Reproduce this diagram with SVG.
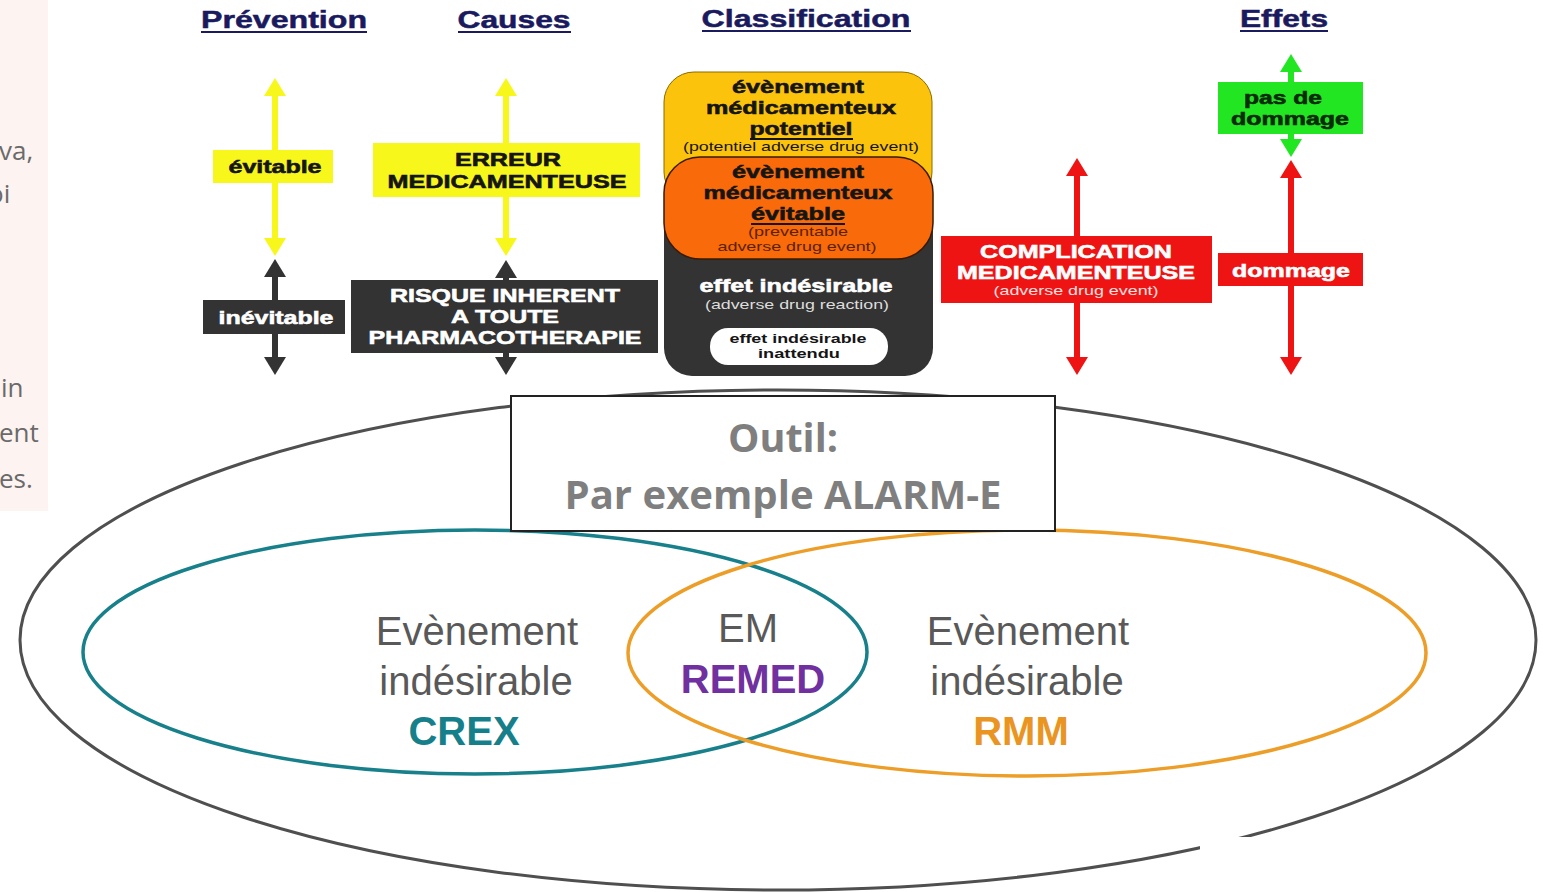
<svg xmlns="http://www.w3.org/2000/svg" width="1544" height="892" viewBox="0 0 1544 892">
  <defs>
    <style>
      .h { font-family: "Liberation Sans", Arial, sans-serif; font-weight: bold; font-size: 24px; fill: #1a1a5e; stroke: #1a1a5e; stroke-width: 0.5; text-anchor: middle; }
      .ul { stroke: #1a1a5e; stroke-width: 2; }
      .lb { font-family: "Liberation Sans", Arial, sans-serif; font-weight: bold; font-size: 19px; text-anchor: middle; stroke-width: 0.6; }
      .sm { font-family: "Liberation Sans", Arial, sans-serif; font-size: 13px; text-anchor: middle; }
      .dk { fill: #151515; }
      .wh { fill: #ffffff; }
      .lb.dk { stroke: #151515; }
      .lb.wh { stroke: #ffffff; }
      .side { font-family: "Open Sans", "Liberation Sans", sans-serif; font-size: 26px; fill: #6a6a6a; }
      .venn { font-family: "Liberation Sans", Arial, sans-serif; font-size: 40px; fill: #595959; text-anchor: middle; }
      .vb { font-family: "Liberation Sans", Arial, sans-serif; font-size: 40px; font-weight: bold; text-anchor: middle; }
      .tool { font-family: "Open Sans", "Liberation Sans", sans-serif; font-weight: bold; font-size: 40px; fill: #7f7f7f; text-anchor: middle; }
      .shaft { stroke-width: 6; fill: none; }
    </style>
    <clipPath id="panelClip"><rect x="0" y="0" width="48" height="511"/></clipPath>
    <marker id="hY" viewBox="0 0 18 22" refX="1" refY="11" markerWidth="18" markerHeight="22" markerUnits="userSpaceOnUse" orient="auto-start-reverse"><path d="M0,0 L18,11 L0,22 Z" fill="#f7f71c"/></marker>
    <marker id="hK" viewBox="0 0 18 22" refX="1" refY="11" markerWidth="18" markerHeight="22" markerUnits="userSpaceOnUse" orient="auto-start-reverse"><path d="M0,0 L18,11 L0,22 Z" fill="#333333"/></marker>
    <marker id="hR" viewBox="0 0 18 22" refX="1" refY="11" markerWidth="18" markerHeight="22" markerUnits="userSpaceOnUse" orient="auto-start-reverse"><path d="M0,0 L18,11 L0,22 Z" fill="#ee1414"/></marker>
    <marker id="hG" viewBox="0 0 18 22" refX="1" refY="11" markerWidth="18" markerHeight="22" markerUnits="userSpaceOnUse" orient="auto-start-reverse"><path d="M0,0 L18,11 L0,22 Z" fill="#22e622"/></marker>
  </defs>

  <rect width="1544" height="892" fill="#ffffff"/>

  <!-- side panel with clipped text -->
  <g id="side-panel">
    <rect x="0" y="0" width="48" height="511" fill="#fdf3f1"/>
    <g clip-path="url(#panelClip)">
      <text class="side" x="-1" y="160">va,</text>
      <text class="side" x="-12" y="203">oi</text>
      <text class="side" x="1" y="397">in</text>
      <text class="side" x="-1" y="442">ent</text>
      <text class="side" x="-1" y="488">es.</text>
    </g>
  </g>

  <!-- column headings -->
  <g id="headings">
    <text class="h" x="284" y="28" textLength="166" lengthAdjust="spacingAndGlyphs">Prévention</text>
    <line class="ul" x1="201" y1="32" x2="367" y2="32"/>
    <text class="h" x="514" y="28" textLength="113" lengthAdjust="spacingAndGlyphs">Causes</text>
    <line class="ul" x1="458" y1="32" x2="571" y2="32"/>
    <text class="h" x="806" y="27" textLength="209" lengthAdjust="spacingAndGlyphs">Classification</text>
    <line class="ul" x1="702" y1="31" x2="911" y2="31"/>
    <text class="h" x="1284" y="27" textLength="88" lengthAdjust="spacingAndGlyphs">Effets</text>
    <line class="ul" x1="1240" y1="31" x2="1328" y2="31"/>
  </g>

  <!-- double-headed arrows -->
  <g id="connectors">
    <line class="shaft" x1="275" y1="95" x2="275" y2="239" stroke="#f7f71c" marker-start="url(#hY)" marker-end="url(#hY)"/>
    <line class="shaft" x1="275" y1="276" x2="275" y2="358" stroke="#333333" marker-start="url(#hK)" marker-end="url(#hK)"/>
    <line class="shaft" x1="506" y1="95" x2="506" y2="239" stroke="#f7f71c" marker-start="url(#hY)" marker-end="url(#hY)"/>
    <line class="shaft" x1="506" y1="277" x2="506" y2="358" stroke="#333333" marker-start="url(#hK)" marker-end="url(#hK)"/>
    <line class="shaft" x1="1077" y1="175" x2="1077" y2="358" stroke="#ee1414" marker-start="url(#hR)" marker-end="url(#hR)"/>
    <line class="shaft" x1="1291" y1="71" x2="1291" y2="140" stroke="#22e622" marker-start="url(#hG)" marker-end="url(#hG)"/>
    <line class="shaft" x1="1291" y1="177" x2="1291" y2="358" stroke="#ee1414" marker-start="url(#hR)" marker-end="url(#hR)"/>
  </g>

  <!-- prevention -->
  <g id="evitable">
    <rect x="213" y="150" width="120" height="33" fill="#f7f71c"/>
    <text class="lb dk" x="275" y="173" textLength="93" lengthAdjust="spacingAndGlyphs">évitable</text>
  </g>
  <g id="inevitable">
    <rect x="203" y="300" width="142" height="34" fill="#333333"/>
    <text class="lb wh" x="276" y="324" textLength="115" lengthAdjust="spacingAndGlyphs">inévitable</text>
  </g>

  <!-- causes -->
  <g id="erreur">
    <rect x="373" y="143" width="267" height="54" fill="#f7f71c"/>
    <text class="lb dk" x="508" y="166" textLength="106" lengthAdjust="spacingAndGlyphs">ERREUR</text>
    <text class="lb dk" x="507" y="188" textLength="239" lengthAdjust="spacingAndGlyphs">MEDICAMENTEUSE</text>
  </g>
  <g id="risque">
    <rect x="351" y="280" width="307" height="73" fill="#333333"/>
    <text class="lb wh" x="505" y="302" textLength="230" lengthAdjust="spacingAndGlyphs">RISQUE INHERENT</text>
    <text class="lb wh" x="505" y="323" textLength="108" lengthAdjust="spacingAndGlyphs">A TOUTE</text>
    <text class="lb wh" x="505" y="344" textLength="273" lengthAdjust="spacingAndGlyphs">PHARMACOTHERAPIE</text>
  </g>

  <!-- classification stack -->
  <g id="classification">
    <rect x="664" y="190" width="269" height="186" rx="28" ry="28" fill="#333333"/>
    <rect x="664" y="72" width="268" height="130" rx="30" ry="30" fill="#fcc30c" stroke="#8a6a00" stroke-width="1"/>
    <text class="lb dk" x="798" y="93" textLength="132" lengthAdjust="spacingAndGlyphs">évènement</text>
    <text class="lb dk" x="801" y="114" textLength="190" lengthAdjust="spacingAndGlyphs">médicamenteux</text>
    <text class="lb dk" x="801" y="135" textLength="103" lengthAdjust="spacingAndGlyphs">potentiel</text>
    <line x1="750" y1="139" x2="853" y2="139" stroke="#151515" stroke-width="2"/>
    <text class="sm dk" x="801" y="151" textLength="236" lengthAdjust="spacingAndGlyphs">(potentiel adverse drug event)</text>

    <rect x="664" y="157" width="269" height="102" rx="36" ry="36" fill="#f96a0a" stroke="#3a1a00" stroke-width="1.5"/>
    <text class="lb dk" x="798" y="178" textLength="132" lengthAdjust="spacingAndGlyphs">évènement</text>
    <text class="lb dk" x="798" y="199" textLength="189" lengthAdjust="spacingAndGlyphs">médicamenteux</text>
    <text class="lb dk" x="798" y="220" textLength="94" lengthAdjust="spacingAndGlyphs">évitable</text>
    <line x1="751" y1="224" x2="845" y2="224" stroke="#151515" stroke-width="2"/>
    <text class="sm" x="798" y="236" fill="#5a2200" textLength="100" lengthAdjust="spacingAndGlyphs">(preventable</text>
    <text class="sm" x="797" y="251" fill="#5a2200" textLength="159" lengthAdjust="spacingAndGlyphs">adverse drug event)</text>

    <text class="lb wh" x="796" y="292" textLength="193" lengthAdjust="spacingAndGlyphs">effet indésirable</text>
    <text class="sm" x="797" y="309" fill="#dddddd" font-size="15" textLength="184" lengthAdjust="spacingAndGlyphs">(adverse drug reaction)</text>

    <rect x="710" y="328" width="178" height="37" rx="18" ry="18" fill="#ffffff"/>
    <text class="sm dk" x="798" y="343" font-weight="bold" textLength="137" lengthAdjust="spacingAndGlyphs">effet indésirable</text>
    <text class="sm dk" x="799" y="358" font-weight="bold" textLength="82" lengthAdjust="spacingAndGlyphs">inattendu</text>
  </g>

  <!-- complication -->
  <g id="complication">
    <rect x="941" y="236" width="271" height="67" fill="#ee1414"/>
    <text class="lb wh" x="1076" y="258" textLength="192" lengthAdjust="spacingAndGlyphs">COMPLICATION</text>
    <text class="lb wh" x="1076" y="279" textLength="238" lengthAdjust="spacingAndGlyphs">MEDICAMENTEUSE</text>
    <text class="sm" x="1076" y="295" fill="#ffe0e0" textLength="165" lengthAdjust="spacingAndGlyphs">(adverse drug event)</text>
  </g>

  <!-- effects -->
  <g id="pas-de-dommage">
    <rect x="1218" y="82" width="145" height="52" fill="#22e622"/>
    <text class="lb" x="1283" y="104" fill="#0c2a0c" stroke="#0c2a0c" textLength="78" lengthAdjust="spacingAndGlyphs">pas de</text>
    <text class="lb" x="1290" y="125" fill="#0c2a0c" stroke="#0c2a0c" textLength="118" lengthAdjust="spacingAndGlyphs">dommage</text>
  </g>
  <g id="dommage">
    <rect x="1218" y="253" width="145" height="33" fill="#ee1414"/>
    <text class="lb wh" x="1291" y="277" textLength="118" lengthAdjust="spacingAndGlyphs">dommage</text>
  </g>

  <!-- outer ellipse and Venn sets -->
  <g id="outer-set">
    <ellipse cx="778" cy="640" rx="758" ry="250" fill="none" stroke="#4f4f4f" stroke-width="3"/>
    <rect x="1200" y="837" width="344" height="55" fill="#ffffff"/>
  </g>
  <g id="crex">
    <ellipse cx="475" cy="652" rx="392" ry="122" fill="none" stroke="#17808a" stroke-width="3.5"/>
    <text class="venn" x="477" y="645">Evènement</text>
    <text class="venn" x="476" y="695">indésirable</text>
    <text class="vb" x="464" y="745" fill="#16808a">CREX</text>
  </g>
  <g id="rmm">
    <ellipse cx="1027" cy="653" rx="399" ry="123" fill="none" stroke="#ec9e28" stroke-width="3.5"/>
    <text class="venn" x="1028" y="645">Evènement</text>
    <text class="venn" x="1027" y="695">indésirable</text>
    <text class="vb" x="1021" y="745" fill="#ea9522">RMM</text>
  </g>
  <g id="remed">
    <text class="venn" x="748" y="642">EM</text>
    <text class="vb" x="753" y="693" fill="#7030a0">REMED</text>
  </g>

  <!-- tool box -->
  <g id="outil">
    <rect x="511" y="396" width="544" height="135" fill="#ffffff" stroke="#222222" stroke-width="2"/>
    <text class="tool" x="783" y="452" textLength="110" lengthAdjust="spacingAndGlyphs">Outil:</text>
    <text class="tool" x="783" y="509" textLength="437" lengthAdjust="spacingAndGlyphs">Par exemple ALARM-E</text>
  </g>
</svg>
